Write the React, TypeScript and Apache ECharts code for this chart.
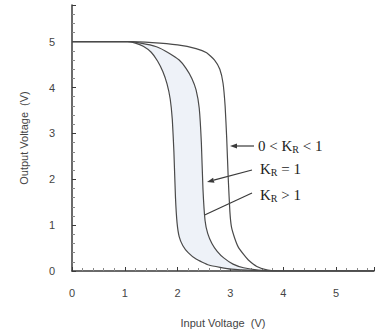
import React, { useEffect, useRef } from 'react';
import * as echarts from 'echarts';

// Input voltage (V) / output voltage (V) pairs
const curveKRgt1: [number, number][] = [
  [0, 5], [1.05, 5], [1.2, 4.97], [1.35, 4.9], [1.5, 4.77], [1.62, 4.58], [1.72, 4.35],
  [1.8, 4.08], [1.86, 3.75], [1.9, 3.3], [1.93, 2.6], [1.96, 1.6], [1.99, 1.05],
  [2.03, 0.75], [2.1, 0.55], [2.2, 0.4], [2.35, 0.26], [2.59, 0.13], [3.02, 0.04],
  [3.5, 0.01], [3.9, 0], [5.72, 0],
];
const curveKReq1: [number, number][] = [
  [0, 5], [1.05, 5], [1.3, 4.97], [1.6, 4.89], [1.84, 4.75], [2.03, 4.6], [2.16, 4.42],
  [2.27, 4.2], [2.35, 3.95], [2.41, 3.55], [2.45, 2.8], [2.48, 1.8], [2.52, 1.1],
  [2.57, 0.82], [2.65, 0.6], [2.75, 0.43], [2.88, 0.28], [3.05, 0.15], [3.25, 0.07],
  [3.53, 0.02], [3.9, 0], [5.72, 0],
];
const curveKRlt1: [number, number][] = [
  [0, 5], [1.05, 5], [1.52, 4.98], [2.0, 4.93], [2.35, 4.85], [2.55, 4.76], [2.7, 4.6],
  [2.8, 4.4], [2.86, 4.1], [2.9, 3.6], [2.93, 2.9], [2.96, 2.0], [2.99, 1.3], [3.02, 0.96],
  [3.08, 0.72], [3.15, 0.52], [3.25, 0.36], [3.34, 0.24], [3.5, 0.1], [3.71, 0.02],
  [3.95, 0], [5.72, 0],
];
const xTickValues = [0, 1, 2, 3, 4, 5];
const yTickValues = [0, 1, 2, 3, 4, 5];
const labels = { lt1: ['0 < K', 'R', ' < 1'], eq1: ['K', 'R', ' = 1'], gt1: ['K', 'R', ' > 1'] };

const INK = '#3a3a3a';

function arrow(x1: number, y1: number, x2: number, y2: number) {
  const dx = x2 - x1, dy = y2 - y1;
  const len = Math.sqrt(dx * dx + dy * dy);
  const ux = dx / len, uy = dy / len;
  const hl = 7, hw = 2.6;
  const bx = x2 - ux * hl, by = y2 - uy * hl;
  return [
    { type: 'line', shape: { x1, y1, x2: bx, y2: by }, style: { stroke: INK, lineWidth: 1.2 } },
    {
      type: 'polygon',
      shape: { points: [[x2, y2], [bx - uy * hw, by + ux * hw], [bx + uy * hw, by - ux * hw]] },
      style: { fill: INK },
    },
  ];
}

function richLabel(x: number, y: number, parts: string[]) {
  return {
    type: 'text',
    x, y,
    style: {
      text: `{a|${parts[0]}}{s|${parts[1]}}{a|${parts[2]}}`,
      rich: {
        a: { fontFamily: 'Liberation Serif', fontSize: 15, fill: '#222' },
        s: { fontFamily: 'Liberation Serif', fontSize: 10, fill: '#222', padding: [6, 0, 0, 0] },
      },
      verticalAlign: 'middle',
    },
  };
}

export default function App() {
  const ref = useRef<HTMLDivElement>(null);
  useEffect(() => {
    document.body.style.margin = '0';
    const chart = echarts.init(ref.current!, undefined, { renderer: 'svg' });
    const fmt = (v: number) => (xTickValues.includes(v) ? String(v) : '');
    const fmtY = (v: number) => (yTickValues.includes(v) ? String(v) : '');
    const axisCommon = {
      axisLine: { lineStyle: { color: INK, width: 1.5 } },
      axisTick: { inside: true, length: 4, lineStyle: { color: INK } },
      minorTick: { show: true, splitNumber: 5, length: 3, lineStyle: { color: '#888' } },
      splitLine: { show: false },
      nameTextStyle: { fontFamily: 'Liberation Sans', fontSize: 11, color: '#444' },
    };
    chart.setOption({
      animation: false,
      grid: { left: 72, right: 0, top: 5, bottom: 64 },
      xAxis: {
        type: 'value', min: 0, max: 5.72, interval: 1,
        name: 'Input Voltage  (V)', nameLocation: 'middle', nameGap: 46,
        axisLabel: { formatter: fmt, margin: 16, fontFamily: 'Liberation Sans', fontSize: 11, color: '#444' },
        ...axisCommon,
      },
      yAxis: {
        type: 'value', min: 0, max: 5.8, interval: 1,
        name: 'Output Voltage  (V)', nameLocation: 'middle', nameGap: 43,
        axisLabel: { formatter: fmtY, margin: 17, fontFamily: 'Liberation Sans', fontSize: 11, color: '#444' },
        ...axisCommon,
      },
      series: [
        {
          type: 'custom',
          z: 1,
          silent: true,
          data: [[0, 0]],
          renderItem: (_p: any, api: any) => {
            const pts = [...curveKRgt1, ...[...curveKReq1].reverse()].map((p) => api.coord(p));
            return { type: 'polygon', shape: { points: pts }, style: { fill: '#eef2f8' } };
          },
        },
        ...[curveKRgt1, curveKReq1, curveKRlt1].map((d) => ({
          type: 'line', data: d, showSymbol: false, smooth: 0.15, z: 3,
          lineStyle: { color: '#4a4a4a', width: 1.2 },
        })),
      ],
      graphic: [
        ...arrow(254, 146, 230, 146),
        ...arrow(252, 170, 207, 182),
        ...arrow(252, 193, 181, 226),
        richLabel(258, 146, labels.lt1),
        richLabel(260, 169, labels.eq1),
        richLabel(260, 195, labels.gt1),
      ],
    });
    return () => chart.dispose();
  }, []);
  return <div ref={ref} style={{ width: 377, height: 335 }} />;
}
